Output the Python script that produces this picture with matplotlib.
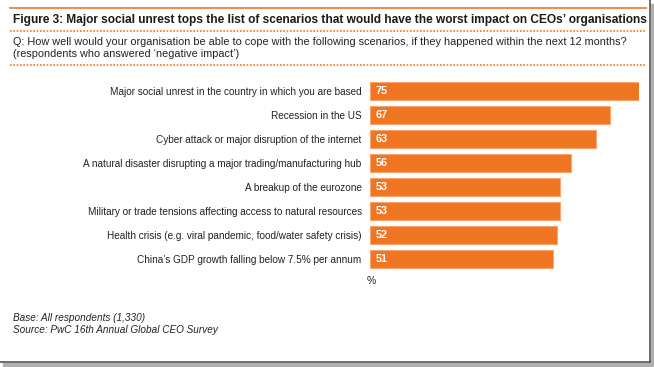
import matplotlib
matplotlib.use('Agg')
import matplotlib.pyplot as plt
from matplotlib.lines import Line2D
from matplotlib.patches import Rectangle

plt.rcParams['font.family'] = ['Liberation Sans', 'DejaVu Sans']

scenarios = [
    'Major social unrest in the country in which you are based',
    'Recession in the US',
    'Cyber attack or major disruption of the internet',
    'A natural disaster disrupting a major trading/manufacturing hub',
    'A breakup of the eurozone',
    'Military or trade tensions affecting access to natural resources',
    'Health crisis (e.g. viral pandemic, food/water safety crisis)',
    "China\u2019s GDP growth falling below 7.5% per annum",
]
values = [75, 67, 63, 56, 53, 53, 52, 51]

orange = '#F07522'
W, H = 654, 367

fig = plt.figure(figsize=(W / 100, H / 100), dpi=100)

def fx(px):
    return px / W

def fy(py):
    return 1 - py / H

# frame with shadow
fig.patches.append(Rectangle((fx(651), fy(366)), fx(3), fy(4) - fy(366),
                             transform=fig.transFigure, color='#b0b0b0', zorder=0))
fig.patches.append(Rectangle((fx(3), fy(366)), fx(651), fy(363) - fy(366),
                             transform=fig.transFigure, color='#b0b0b0', zorder=0))
fig.lines.append(Line2D([fx(650), fx(650)], [fy(0), fy(362)], transform=fig.transFigure,
                        color='#555555', lw=1.2))
fig.lines.append(Line2D([fx(0), fx(650)], [fy(362), fy(362)], transform=fig.transFigure,
                        color='#555555', lw=1.2))

# header lines
fig.lines.append(Line2D([fx(10), fx(646)], [fy(8), fy(8)], transform=fig.transFigure,
                        color=orange, lw=1.2))
for yy in (31, 65):
    fig.lines.append(Line2D([fx(10), fx(646)], [fy(yy), fy(yy)], transform=fig.transFigure,
                            color=orange, lw=1.2, linestyle=(0, (1, 1))))

fig.text(fx(13), fy(20), 'Figure 3: Major social unrest tops the list of scenarios that would have the worst impact on CEOs\u2019 organisations',
         fontsize=8.6, fontweight='bold', va='center', ha='left', color='#1a1a1a')
fig.text(fx(13), fy(42), 'Q: How well would your organisation be able to cope with the following scenarios, if they happened within the next 12 months?',
         fontsize=7.8, va='center', ha='left', color='#222222')
fig.text(fx(13), fy(54), '(respondents who answered \u2018negative impact\u2019)',
         fontsize=7.8, va='center', ha='left', color='#222222')

ax = fig.add_axes([fx(370), fy(271), fx(269), fy(79) - fy(271)])
ypos = list(range(len(values)))
bars = ax.barh(ypos, values, height=0.74, color=orange, edgecolor='#F8A46A', linewidth=0.8)
ax.set_xlim(0, 75)
ax.set_ylim(len(values) - 0.5, -0.5)
ax.set_yticks(ypos)
ax.set_yticklabels(scenarios, fontsize=7.2, color='#222222')
ax.tick_params(axis='y', length=0, pad=6)
ax.set_xticks([])
for s in ax.spines.values():
    s.set_visible(False)
for b, v in zip(bars, values):
    ax.text(1.6, b.get_y() + b.get_height() / 2, str(v), color='white',
            fontsize=7.8, fontweight='bold', va='center', ha='left')

fig.text(fx(367), fy(281), '%', fontsize=7.5, va='center', ha='left', color='#222222')
fig.text(fx(13), fy(318), 'Base: All respondents (1,330)', fontsize=7.2, style='italic',
         va='center', ha='left', color='#222222')
fig.text(fx(13), fy(330), 'Source: PwC 16th Annual Global CEO Survey', fontsize=7.2, style='italic',
         va='center', ha='left', color='#222222')

fig.savefig('out.png', dpi=100, facecolor='white')
